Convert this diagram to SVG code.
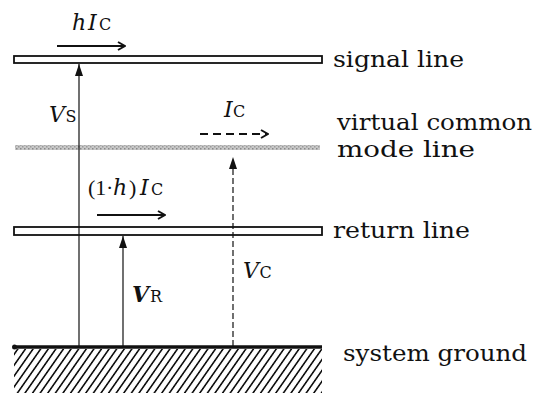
<svg xmlns="http://www.w3.org/2000/svg" width="538" height="394" viewBox="0 0 538 394">
<style>
.lbl{font-family:"DejaVu Serif","Liberation Serif",serif;font-size:22px;fill:#111}
.it{font-family:"DejaVu Serif","Liberation Serif",serif;font-style:italic;font-size:22px;fill:#111}
.rm{font-family:"Liberation Serif","DejaVu Serif",serif;font-size:22px;fill:#111}
.sub{font-family:"DejaVu Serif","Liberation Serif",serif;font-size:16px;fill:#111}
.bar{fill:none;stroke:#111;stroke-width:1.8}
.vline{stroke:#111;stroke-width:1.2;fill:none}
.harrow{stroke:#111;stroke-width:2;fill:none}
</style>
<defs>
<pattern id="hatch" patternUnits="userSpaceOnUse" width="7.6" height="20" patternTransform="skewX(-35)">
<line x1="3.8" y1="-1" x2="3.8" y2="21" stroke="#111" stroke-width="2"/>
</pattern>
<pattern id="stip" patternUnits="userSpaceOnUse" width="4" height="4">
<rect width="4" height="4" fill="#c8c8c8"/>
<rect x="0" y="0" width="1.5" height="1.5" fill="#8a8a8a"/>
<rect x="2" y="2" width="1.5" height="1.5" fill="#9a9a9a"/>
</pattern>
<marker id="tri" markerUnits="userSpaceOnUse" viewBox="0 0 12 8" refX="12" refY="4" markerWidth="12" markerHeight="8" orient="auto">
<path d="M0,0 L12,4 L0,8 Z" fill="#111"/>
</marker>
<marker id="open" markerUnits="userSpaceOnUse" viewBox="0 0 10 10" refX="9" refY="5" markerWidth="10" markerHeight="10" orient="auto">
<path d="M2,1 L9,5 L2,9" fill="none" stroke="#111" stroke-width="2"/>
</marker>
</defs>

<g id="signal-line">
<rect class="bar" x="14" y="56" width="308" height="7"/>
<text class="lbl" x="333" y="67" textLength="131" lengthAdjust="spacingAndGlyphs">signal line</text>
</g>

<g id="virtual-common-mode-line">
<rect x="15" y="145" width="305" height="5" fill="url(#stip)"/>
<text class="lbl" x="337" y="130" textLength="195" lengthAdjust="spacingAndGlyphs">virtual common</text>
<text class="lbl" x="337" y="157" textLength="138" lengthAdjust="spacingAndGlyphs">mode line</text>
</g>

<g id="return-line">
<rect class="bar" x="14" y="227" width="308" height="8"/>
<text class="lbl" x="333" y="238" textLength="137" lengthAdjust="spacingAndGlyphs">return line</text>
</g>

<g id="system-ground">
<rect x="14" y="349" width="308" height="44" fill="url(#hatch)"/>
<line x1="14" y1="347" x2="322" y2="347" stroke="#111" stroke-width="3.5"/>
<circle cx="14.5" cy="347" r="2.5" fill="#111"/>
<text class="lbl" x="343" y="361" textLength="184" lengthAdjust="spacingAndGlyphs">system ground</text>
</g>

<g id="connectors">
<line class="vline" x1="79" y1="346" x2="79" y2="64" marker-end="url(#tri)"/>
<line class="vline" x1="123" y1="346" x2="123" y2="236" marker-end="url(#tri)"/>
<line class="vline" x1="233" y1="346" x2="233" y2="157" stroke-dasharray="6 3" marker-end="url(#tri)"/>
<line class="harrow" x1="57" y1="46" x2="125" y2="46" marker-end="url(#open)"/>
<line class="harrow" x1="200" y1="134" x2="268" y2="134" stroke-dasharray="8 5" marker-end="url(#open)"/>
<line class="harrow" x1="97" y1="215" x2="165" y2="215" marker-end="url(#open)"/>
</g>

<g id="labels">
<text y="30"><tspan class="it" x="72">h</tspan><tspan class="it" x="88">I</tspan><tspan class="sub" x="99">C</tspan></text>
<text y="122"><tspan class="it" x="49">V</tspan><tspan class="sub" x="65.5">S</tspan></text>
<text y="117"><tspan class="it" x="224">I</tspan><tspan class="sub" x="233">C</tspan></text>
<text y="195"><tspan class="rm" x="88">(1</tspan><tspan class="rm" x="106">·</tspan><tspan class="it" x="113">h</tspan><tspan class="rm" x="129">)</tspan><tspan class="it" x="140">I</tspan><tspan class="sub" x="151">C</tspan></text>
<text y="302"><tspan class="it" x="132" font-weight="bold">V</tspan><tspan class="sub" x="150">R</tspan></text>
<text y="278"><tspan class="it" x="243">V</tspan><tspan class="sub" x="259.5">C</tspan></text>
</g>
</svg>
